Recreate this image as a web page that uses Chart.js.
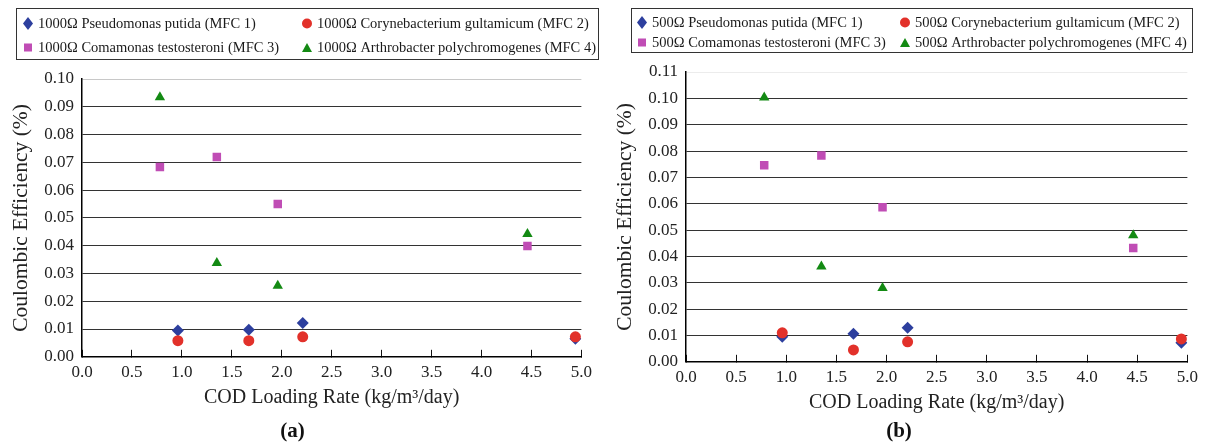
<!DOCTYPE html>
<html>
<head>
<meta charset="utf-8">
<script src="https://cdn.jsdelivr.net/npm/chart.js@4.4.0/dist/chart.umd.min.js"></script>
<style>
  body { margin: 0; width: 1211px; height: 445px; background: #fff; position: relative; overflow: hidden; font-family: 'Liberation Serif', serif; }
  canvas { position: absolute; top: 0; }
  .legend { position: absolute; border: 1px solid #333; box-sizing: border-box; }
  .item { position: absolute; display: flex; align-items: center; height: 18px; font-size: 14.5px; color: #1a1a1a; white-space: nowrap; }
  .item svg { margin-right: 4px; flex: none; }
</style>
</head>
<body>
<canvas id="chartA" width="605" height="445" style="left:0"></canvas>
<canvas id="chartB" width="606" height="445" style="left:605px"></canvas>
<div class="legend" style="left:16px;top:8px;width:583px;height:52px"></div>
<div class="legend" style="left:631px;top:8px;width:562px;height:45px"></div>
<script>
// COD loading rates (kg/m3/day)
const loadMfc12 = [0.96, 1.67, 2.21, 4.94];
const loadMfc34 = [0.78, 1.35, 1.96, 4.46];

// coulombic efficiency (%), 1000 ohm
const ce1000Mfc1 = [0.0095, 0.0097, 0.0122, 0.0065];
const ce1000Mfc2 = [0.0058, 0.0058, 0.0072, 0.0072];
const ce1000Mfc3 = [0.0683, 0.0719, 0.0550, 0.0399];
const ce1000Mfc4 = [0.0934, 0.0338, 0.0256, 0.0442];

// coulombic efficiency (%), 500 ohm
const ce500Mfc1 = [0.0095, 0.0106, 0.0129, 0.0072];
const ce500Mfc2 = [0.0110, 0.0045, 0.0076, 0.0087];
const ce500Mfc3 = [0.0746, 0.0783, 0.0587, 0.0432];
const ce500Mfc4 = [0.1003, 0.0362, 0.0280, 0.0480];

const seriesNames = ['Pseudomonas putida (MFC 1)', 'Corynebacterium gultamicum (MFC 2)',
  'Comamonas testosteroni (MFC 3)', 'Arthrobacter polychromogenes (MFC 4)'];

const xTickLabels = ['0.0', '0.5', '1.0', '1.5', '2.0', '2.5', '3.0', '3.5', '4.0', '4.5', '5.0'];
const yTickLabelsA = ['0.00', '0.01', '0.02', '0.03', '0.04', '0.05', '0.06', '0.07', '0.08', '0.09', '0.10'];
const yTickLabelsB = ['0.00', '0.01', '0.02', '0.03', '0.04', '0.05', '0.06', '0.07', '0.08', '0.09', '0.10', '0.11'];

const colors = ['#2d3f9e', '#e2312a', '#c04db5', '#138a13'];
const shapes = ['rectRot', 'circle', 'rect', 'triangle'];
const radii = [6, 5.5, 6, 6];
const serif = "'Liberation Serif', 'Times New Roman', serif";

function buildDatasets(ohm, ys) {
  return ys.map((y, i) => ({
    label: ohm + ' ' + seriesNames[i],
    data: (i < 2 ? loadMfc12 : loadMfc34).map((x, j) => ({ x: x, y: y[j] })),
    pointStyle: shapes[i],
    pointRadius: radii[i],
    backgroundColor: colors[i],
    borderWidth: 0,
    order: 4 - i
  }));
}

function makeChart(id, datasets, yMax, yTickLabels, lay, panelLabel) {
  return new Chart(document.getElementById(id), {
    type: 'scatter',
    data: { datasets: datasets },
    options: {
      responsive: false,
      animation: false,
      events: [],
      layout: { padding: { left: 0, right: lay.right, top: lay.top, bottom: 0 } },
      plugins: {
        legend: { display: false },
        tooltip: { enabled: false },
        title: {
          display: true, text: panelLabel, position: 'bottom', color: '#111',
          font: { family: serif, size: 21, weight: 'bold' },
          padding: { top: 0, bottom: 1 }
        }
      },
      scales: {
        x: {
          type: 'linear', min: 0, max: 5,
          afterFit: s => { s.height = lay.xHeight; },
          border: { display: true, color: '#000', width: 1.5 },
          grid: { display: true, drawOnChartArea: false, drawTicks: true, tickLength: -7, color: '#111', lineWidth: 1 },
          ticks: {
            stepSize: 0.5, padding: 13, color: '#222', maxRotation: 0, autoSkip: false,
            font: { family: serif, size: 17 },
            callback: (v, i) => xTickLabels[i]
          },
          title: {
            display: true, text: 'COD Loading Rate (kg/m³/day)', color: '#222',
            font: { family: serif, size: 20 },
            padding: { top: 0, bottom: lay.xTitlePad }
          }
        },
        y: {
          min: 0, max: yMax,
          afterFit: s => { s.width = lay.yWidth; },
          border: { display: true, color: '#000', width: 1.5 },
          grid: {
            drawTicks: false, lineWidth: 1,
            color: c => (c.tick && c.tick.value > yMax - 0.001) ? lay.topGrid : '#333'
          },
          ticks: {
            stepSize: 0.01, padding: 8, color: '#222',
            font: { family: serif, size: 17 },
            callback: (v, i) => yTickLabels[i]
          },
          title: {
            display: true, text: 'Coulombic Efficiency (%)', color: '#222',
            font: { family: serif, size: 21.5 },
            padding: { top: lay.yTitlePad, bottom: 0 }
          }
        }
      }
    }
  });
}

makeChart('chartA', buildDatasets('1000Ω', [ce1000Mfc1, ce1000Mfc2, ce1000Mfc3, ce1000Mfc4]),
  0.10, yTickLabelsA,
  { right: 20, top: 79, xHeight: 62, yWidth: 82, xTitlePad: 9, yTitlePad: 8, topGrid: '#c8c8c8' }, '(a)');

makeChart('chartB', buildDatasets('500Ω', [ce500Mfc1, ce500Mfc2, ce500Mfc3, ce500Mfc4]),
  0.11, yTickLabelsB,
  { right: 18, top: 72, xHeight: 57, yWidth: 81, xTitlePad: 4, yTitlePad: 7, topGrid: '#ececec' }, '(b)');

// legends (HTML, two columns in a bordered box)
const markerSvg = [
  '<polygon points="6,0 11,6.5 6,13 1,6.5"/>',
  '<circle cx="6" cy="6.5" r="5"/>',
  '<rect x="2" y="2.5" width="8" height="8"/>',
  '<polygon points="6,2 11,11 1,11"/>'
];

function addLegend(ohm, cols, rows) {
  seriesNames.forEach((name, i) => {
    const d = document.createElement('div');
    d.className = 'item';
    d.style.left = (cols[i % 2] - 6) + 'px';
    d.style.top = (rows[Math.floor(i / 2)] - 9) + 'px';
    d.innerHTML = '<svg width="12" height="13" fill="' + colors[i] + '">' + markerSvg[i] + '</svg>' +
      '<span>' + ohm + ' ' + name + '</span>';
    document.body.appendChild(d);
  });
}
addLegend('1000Ω', [28, 307], [23, 47]);
addLegend('500Ω', [642, 905], [22, 42]);
</script>
</body>
</html>
